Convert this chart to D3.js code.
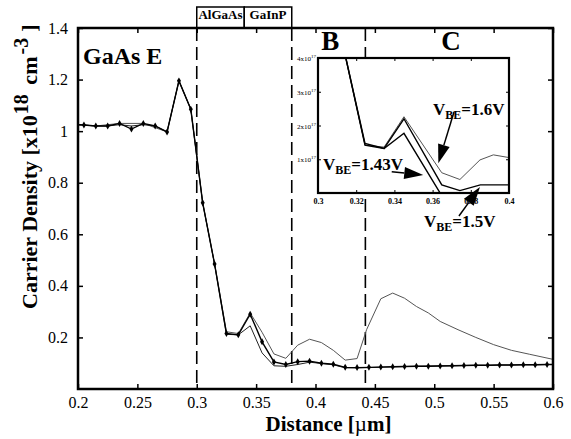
<!DOCTYPE html>
<html>
<head>
<meta charset="utf-8">
<script src="https://cdn.jsdelivr.net/npm/d3@7"></script>
<style>
  body { margin: 0; background: #fff; }
  svg text { font-family: "Liberation Serif", "DejaVu Serif", serif !important; }
</style>
</head>
<body>
<div id="chart"></div>
<script>
// Carrier density vs distance, GaAs emitter, three V_BE bias values

// main plot samples (distance in um, density in 1e18 cm^-3)
const distance = [0.2, 0.205, 0.215, 0.225, 0.235, 0.245, 0.255, 0.265, 0.275, 0.285, 0.295,
  0.305, 0.315, 0.325, 0.335, 0.345, 0.355, 0.365, 0.375, 0.385, 0.395, 0.405, 0.415,
  0.425, 0.435, 0.445, 0.455, 0.465, 0.475, 0.485, 0.495, 0.505, 0.515, 0.525, 0.535,
  0.545, 0.555, 0.565, 0.575, 0.585, 0.595, 0.6];
const vbe150 = [1.025, 1.024, 1.02, 1.02, 1.03, 1.008, 1.03, 1.02, 0.997, 1.195, 1.085,
  0.722, 0.485, 0.215, 0.21, 0.29, 0.183, 0.105, 0.095, 0.106, 0.108, 0.1, 0.096,
  0.084, 0.083, 0.084, 0.085, 0.086, 0.087, 0.088, 0.088, 0.089, 0.09, 0.091, 0.092,
  0.092, 0.093, 0.093, 0.094, 0.094, 0.095, 0.095];
const vbe143 = [1.025, 1.024, 1.02, 1.02, 1.025, 1.02, 1.025, 1.02, 0.997, 1.195, 1.085,
  0.722, 0.485, 0.212, 0.21, 0.245, 0.14, 0.09, 0.088, 0.095, 0.104, 0.099, 0.094,
  0.082, 0.082, 0.083, 0.085, 0.086, 0.087, 0.088, 0.089, 0.09, 0.09, 0.091, 0.092,
  0.092, 0.093, 0.093, 0.094, 0.094, 0.095, 0.095];
// V_BE = 1.6 V (thin line)
const distance16 = [0.2, 0.215, 0.235, 0.255, 0.275, 0.285, 0.295, 0.305, 0.315, 0.325, 0.335,
  0.345, 0.355, 0.365, 0.375, 0.385, 0.395, 0.405, 0.415, 0.425, 0.435, 0.443, 0.455,
  0.465, 0.475, 0.485, 0.495, 0.505, 0.52, 0.535, 0.55, 0.565, 0.58, 0.6];
const vbe160 = [1.025, 1.02, 1.03, 1.03, 0.997, 1.195, 1.085, 0.722, 0.485, 0.222, 0.215,
  0.295, 0.22, 0.136, 0.119, 0.17, 0.193, 0.18, 0.15, 0.112, 0.118, 0.23, 0.35,
  0.372, 0.352, 0.32, 0.295, 0.262, 0.23, 0.2, 0.172, 0.15, 0.135, 0.115];

const xTicks = [0.2, 0.25, 0.3, 0.35, 0.4, 0.45, 0.5, 0.55, 0.6];
const yTicks = [0.2, 0.4, 0.6, 0.8, 1, 1.2, 1.4];
const layerEdges = [0.3, 0.38, 0.442];
const layerBoxes = [[0.3, 0.34], [0.34, 0.38]];
const layerNames = ['AlGaAs', 'GaInP'];

// inset samples (distance in um, density in 1e17 cm^-3)
const insetX16 = [0.313, 0.3246, 0.3346, 0.345, 0.3648, 0.3743, 0.3848, 0.3918, 0.4];
const insetY16 = [4.4, 1.42, 1.36, 2.26, 0.6, 0.4, 0.98, 1.13, 1.05];
const insetX15 = [0.313, 0.3246, 0.3346, 0.345, 0.3648, 0.3743, 0.385, 0.4];
const insetY15 = [4.4, 1.47, 1.32, 2.2, 0.24, 0.07, 0.24, 0.24];
const insetX143 = [0.313, 0.3246, 0.3346, 0.345, 0.365, 0.375];
const insetY143 = [4.4, 1.42, 1.32, 1.77, -0.1, -0.1];
const insetXTicks = [0.3, 0.32, 0.34, 0.36, 0.38, 0.4];
const insetYTicks = [1, 2, 3, 4];

const serif = '"Liberation Serif", "DejaVu Serif", serif';

let svgWidth = 571, svgHeight = 439;
let margin = { top: 28, right: 18, bottom: 50, left: 78 };
let width = svgWidth - margin.left - margin.right;
let height = svgHeight - margin.top - margin.bottom;

let svg = d3.select('#chart').append('svg')
  .attr('width', svgWidth)
  .attr('height', svgHeight)
  .style('font-family', serif);

let chart = svg.append('g')
  .attr('transform', `translate(${margin.left}, ${margin.top})`);

let x = d3.scaleLinear().domain([0.2, 0.6]).range([0, width]);
let y = d3.scaleLinear().domain([0, 1.4]).range([height, 0]);

// layer boxes above plot
layerBoxes.forEach((b, i) => {
  let x0 = x(b[0]), x1 = x(b[1]);
  chart.append('rect')
    .attr('x', x0).attr('y', -21)
    .attr('width', x1 - x0).attr('height', 21)
    .attr('fill', '#fff').attr('stroke', '#000').attr('stroke-width', 1.5);
  chart.append('text')
    .attr('x', (x0 + x1) / 2).attr('y', -9)
    .attr('text-anchor', 'middle')
    .attr('font-size', '13px').attr('font-weight', 'bold')
    .text(layerNames[i]);
});

// dashed layer boundaries
chart.selectAll('.edge')
  .data(layerEdges)
  .enter().append('line')
  .attr('x1', d => x(d)).attr('x2', d => x(d))
  .attr('y1', 0).attr('y2', height)
  .attr('stroke', '#000').attr('stroke-width', 1.6)
  .attr('stroke-dasharray', '13,6');

// curves
svg.append('clipPath').attr('id', 'mainclip')
  .append('rect').attr('width', width).attr('height', height);

let line = d3.line().x(d => x(d[0])).y(d => y(d[1]));
let plot = chart.append('g').attr('clip-path', 'url(#mainclip)');

plot.append('path')
  .datum(d3.zip(distance16, vbe160))
  .attr('d', line).attr('fill', 'none')
  .attr('stroke', '#555').attr('stroke-width', 1);
plot.append('path')
  .datum(d3.zip(distance, vbe143))
  .attr('d', line).attr('fill', 'none')
  .attr('stroke', '#222').attr('stroke-width', 1);
plot.append('path')
  .datum(d3.zip(distance, vbe150))
  .attr('d', line).attr('fill', 'none')
  .attr('stroke', '#000').attr('stroke-width', 1.4);

plot.selectAll('.mark')
  .data(d3.zip(distance, vbe150).slice(1, -1))
  .enter().append('path')
  .attr('transform', d => `translate(${x(d[0])}, ${y(d[1])})`)
  .attr('d', d3.symbol().type(d3.symbolDiamond).size(14))
  .attr('fill', '#000');

// axes with inward ticks on all sides
chart.append('g')
  .attr('transform', `translate(0, ${height})`)
  .call(d3.axisBottom(x).tickValues(xTicks).tickSize(-5).tickPadding(8).tickFormat(d3.format('')))
  .call(g => g.select('.domain').remove())
  .call(g => g.selectAll('text').attr('font-size', '16px'));
chart.append('g')
  .call(d3.axisTop(x).tickValues(xTicks).tickSize(-5).tickFormat(''))
  .call(g => g.select('.domain').remove());
chart.append('g')
  .call(d3.axisLeft(y).tickValues(yTicks).tickSize(-5).tickPadding(10).tickFormat(d3.format('')))
  .call(g => g.select('.domain').remove())
  .call(g => g.selectAll('text').attr('font-size', '16px'));
chart.append('g')
  .attr('transform', `translate(${width}, 0)`)
  .call(d3.axisRight(y).tickValues(yTicks).tickSize(-5).tickFormat(''))
  .call(g => g.select('.domain').remove());
chart.selectAll('.tick line').attr('stroke-width', 1.5);

chart.append('rect')
  .attr('width', width).attr('height', height)
  .attr('fill', 'none').attr('stroke', '#000').attr('stroke-width', 2.5);

// labels
chart.append('text')
  .attr('x', 5).attr('y', 36)
  .attr('font-size', '24px').attr('font-weight', 'bold')
  .text('GaAs E');
chart.append('text')
  .attr('x', x(0.4125)).attr('y', 22)
  .attr('text-anchor', 'middle')
  .attr('font-size', '27px').attr('font-weight', 'bold')
  .text('B');
chart.append('text')
  .attr('x', x(0.514)).attr('y', 22)
  .attr('text-anchor', 'middle')
  .attr('font-size', '27px').attr('font-weight', 'bold')
  .text('C');

let xLabel = chart.append('text')
  .attr('x', width / 2 + 13).attr('y', height + 42)
  .attr('text-anchor', 'middle')
  .attr('font-size', '21px').attr('font-weight', 'bold');
xLabel.append('tspan').text('Distance [');
xLabel.append('tspan').attr('font-weight', 'normal').text('\u00b5');
xLabel.append('tspan').text('m]');

let yLabel = chart.append('text')
  .attr('transform', `translate(-41, ${height - 80}) rotate(-90)`)
  .attr('text-anchor', 'start')
  .attr('font-size', '22px').attr('font-weight', 'bold');
yLabel.append('tspan').text('Carrier Density [x10');
yLabel.append('tspan').attr('font-size', '20px').attr('dy', -9).attr('dx', 1).text('18');
yLabel.append('tspan').attr('dy', 9).attr('dx', 4).text(' cm');
yLabel.append('tspan').attr('font-size', '20px').attr('dy', -9).attr('dx', 2).text('-3');
yLabel.append('tspan').attr('dy', 9).attr('dx', 6).text(']');

// inset
let inset = { left: 240, top: 30, width: 191, height: 135 };
let ig = chart.append('g').attr('transform', `translate(${inset.left}, ${inset.top})`);
let ix = d3.scaleLinear().domain([0.3, 0.4]).range([0, inset.width]);
let iy = d3.scaleLinear().domain([0, 4]).range([inset.height, 0]);

ig.append('rect')
  .attr('width', inset.width).attr('height', inset.height)
  .attr('fill', '#fff');

svg.append('clipPath').attr('id', 'insetclip')
  .append('rect').attr('width', inset.width).attr('height', inset.height);

let iline = d3.line().x(d => ix(d[0])).y(d => iy(d[1]));
let ip = ig.append('g').attr('clip-path', 'url(#insetclip)');
ip.append('path')
  .datum(d3.zip(insetX16, insetY16))
  .attr('d', iline).attr('fill', 'none')
  .attr('stroke', '#555').attr('stroke-width', 1);
ip.append('path')
  .datum(d3.zip(insetX15, insetY15))
  .attr('d', iline).attr('fill', 'none')
  .attr('stroke', '#000').attr('stroke-width', 1.4);
ip.append('path')
  .datum(d3.zip(insetX143, insetY143))
  .attr('d', iline).attr('fill', 'none')
  .attr('stroke', '#000').attr('stroke-width', 1.4);

ig.append('g')
  .attr('transform', `translate(0, ${inset.height})`)
  .call(d3.axisBottom(ix).tickValues(insetXTicks).tickSize(-3).tickPadding(5).tickFormat(d3.format('')))
  .call(g => g.select('.domain').remove())
  .call(g => g.selectAll('text').attr('font-size', '8px').attr('font-weight', 'bold'));
ig.append('g')
  .call(d3.axisTop(ix).tickValues(insetXTicks).tickSize(-3).tickFormat(''))
  .call(g => g.select('.domain').remove());
ig.append('g')
  .attr('transform', `translate(${inset.width}, 0)`)
  .call(d3.axisRight(iy).tickValues(insetYTicks).tickSize(-3).tickFormat(''))
  .call(g => g.select('.domain').remove());
ig.append('g')
  .call(d3.axisLeft(iy).tickValues(insetYTicks).tickSize(-3).tickFormat(''))
  .call(g => g.select('.domain').remove());

let iyl = ig.selectAll('.iyl')
  .data(insetYTicks)
  .enter().append('text')
  .attr('x', -2).attr('y', d => iy(d) + 3)
  .attr('text-anchor', 'end')
  .attr('font-size', '7px');
iyl.append('tspan').text(d => d + 'x10');
iyl.append('tspan').attr('font-size', '5px').attr('dy', -3).text('17');

ig.append('rect')
  .attr('width', inset.width).attr('height', inset.height)
  .attr('fill', 'none').attr('stroke', '#000').attr('stroke-width', 2.2);

// bias annotations with arrows
const notes = [
  { v: '=1.6V', tx: 0.3602, ty: 2.31, from: [0.3712, 2.4], to: [0.363, 0.88] },
  { v: '=1.43V', tx: 0.3026, ty: 0.68, from: [0.3386, 0.63], to: [0.3551, 0.53] },
  { v: '=1.5V', tx: 0.3555, ty: -1.0, from: [0.3738, -0.68], to: [0.3848, 0.18] }
];

notes.forEach(n => {
  let t = ig.append('text')
    .attr('x', ix(n.tx)).attr('y', iy(n.ty))
    .attr('font-size', '17px').attr('font-weight', 'bold');
  t.append('tspan').text('V');
  t.append('tspan').attr('font-size', '12px').attr('dy', 4).text('BE');
  t.append('tspan').attr('dy', -4).text(n.v);

  let x0 = ix(n.from[0]), y0 = iy(n.from[1]);
  let x1 = ix(n.to[0]), y1 = iy(n.to[1]);
  let len = Math.hypot(x1 - x0, y1 - y0);
  let ux = (x1 - x0) / len, uy = (y1 - y0) / len;
  let hl = 19, hw = 6;
  let bx = x1 - ux * hl, by = y1 - uy * hl;
  ig.append('line')
    .attr('x1', x0).attr('y1', y0).attr('x2', bx).attr('y2', by)
    .attr('stroke', '#000').attr('stroke-width', 1.5);
  ig.append('path')
    .attr('d', `M${x1},${y1}L${bx - uy * hw},${by + ux * hw}L${bx + uy * hw},${by - ux * hw}Z`)
    .attr('fill', '#000');
});
</script>
</body>
</html>
